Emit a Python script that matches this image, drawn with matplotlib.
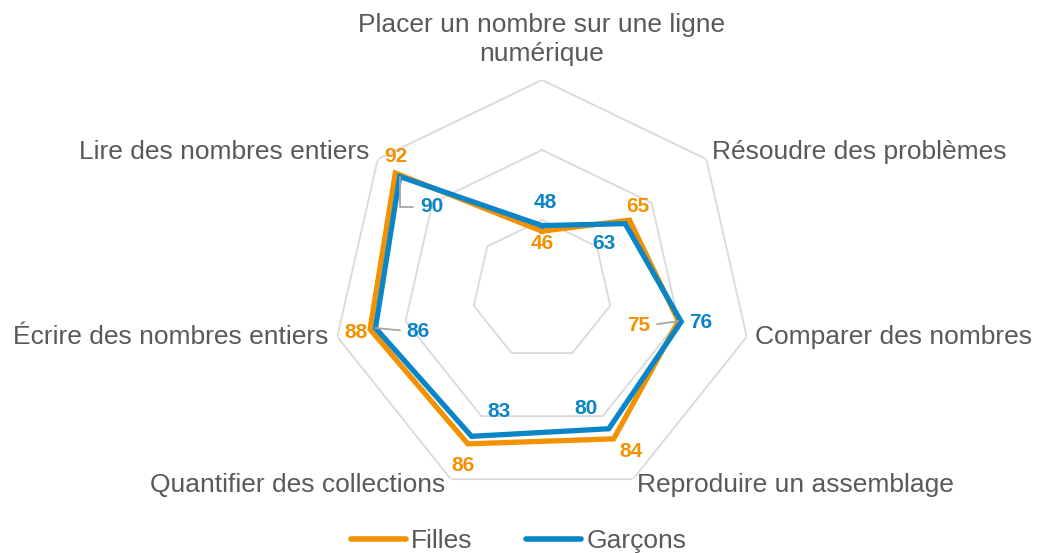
import numpy as np
import matplotlib
matplotlib.use('Agg')
import matplotlib.pyplot as plt
from matplotlib.lines import Line2D

plt.rcParams['font.family'] = ['Liberation Sans', 'DejaVu Sans']

# data, clockwise from the top axis
categories = ['Placer un nombre sur une ligne\nnumérique', 'Résoudre des problèmes',
              'Comparer des nombres', 'Reproduire un assemblage',
              'Quantifier des collections', 'Écrire des nombres entiers',
              'Lire des nombres entiers']
filles = [46, 65, 75, 84, 86, 88, 92]
garcons = [48, 63, 76, 80, 83, 86, 90]
rings = [50, 75, 100]

ORANGE = '#F39200'
BLUE = '#0A86C8'
GREY = '#595959'

n = len(categories)
theta = np.arange(n) * 2 * np.pi / n
theta_c = np.append(theta, theta[0])

fig = plt.figure(figsize=(10.37, 5.53), dpi=100)
ax = fig.add_axes([332 / 1037, 53 / 553, 420 / 1037, 420 / 553], projection='polar')
ax.set_theta_zero_location('N')
ax.set_theta_direction(-1)
ax.set_ylim(25, 100)
ax.grid(False)
ax.set_xticks([])
ax.set_yticks([])
ax.spines['polar'].set_visible(False)
ax.patch.set_alpha(0)

# heptagon grid
for r in rings:
    ax.plot(theta_c, [r] * (n + 1), color='#D9D9D9', lw=1.3, zorder=1)

ax.plot(theta_c, filles + filles[:1], color=ORANGE, lw=3.8, solid_joinstyle='miter', zorder=3)
ax.plot(theta_c, garcons + garcons[:1], color=BLUE, lw=3.8, solid_joinstyle='miter', zorder=4)

# axis labels (offsets in pixels from the outer vertex)
cat_pos = [((0, 14), 'center', 'bottom'), ((6, 7), 'left', 'center'),
           ((8, 0), 'left', 'center'), ((4, -6), 'left', 'center'),
           ((-6, -6), 'right', 'center'), ((-9, 0), 'right', 'center'),
           ((-8, 7), 'right', 'center')]
for t, lab, (off, ha, va) in zip(theta, categories, cat_pos):
    ax.annotate(lab, xy=(t, 100), xytext=off, textcoords='offset pixels',
                ha=ha, va=va, fontsize=19, color=GREY, linespacing=1.25,
                multialignment='center', annotation_clip=False)

# data labels
f_off = [(0, -12), (8, 14), (-40, -4), (17, -13), (-5, -22), (-14, -3), (1, 17)]
g_off = [(3, 23), (-21, -20), (19, -1), (-23, 20), (27, 25), (43, -3), (32, -30)]
leader = dict(arrowstyle='-', color='#A6A6A6', lw=1.3, shrinkA=3, shrinkB=0)

for i, (t, v) in enumerate(zip(theta, filles)):
    kw = {}
    if i == 2:
        kw['arrowprops'] = dict(leader, relpos=(1, 0.5))
    ax.annotate(str(v), xy=(t, v), xytext=f_off[i], textcoords='offset pixels',
                ha='center', va='center', fontsize=15, fontweight='bold',
                color=ORANGE, zorder=5, annotation_clip=False, **kw)

for i, (t, v) in enumerate(zip(theta, garcons)):
    kw = {}
    if i == 5:
        kw['arrowprops'] = dict(leader, relpos=(0, 0.5))
    if i == 6:
        kw['arrowprops'] = dict(leader, relpos=(0, 0.5),
                                connectionstyle='angle,angleA=0,angleB=90,rad=0')
    ax.annotate(str(v), xy=(t, v), xytext=g_off[i], textcoords='offset pixels',
                ha='center', va='center', fontsize=15, fontweight='bold',
                color=BLUE, zorder=5, annotation_clip=False, **kw)

handles = [Line2D([], [], color=ORANGE, lw=4, solid_capstyle='round'),
           Line2D([], [], color=BLUE, lw=4, solid_capstyle='round')]
fig.legend(handles, ['Filles', 'Garçons'], loc='center', bbox_to_anchor=(0.5, 1 - 541 / 553),
           ncol=2, frameon=False, fontsize=19, labelcolor=GREY,
           handlelength=2.1, handletextpad=0.2, columnspacing=2.0)

fig.savefig('out.png', dpi=100)
